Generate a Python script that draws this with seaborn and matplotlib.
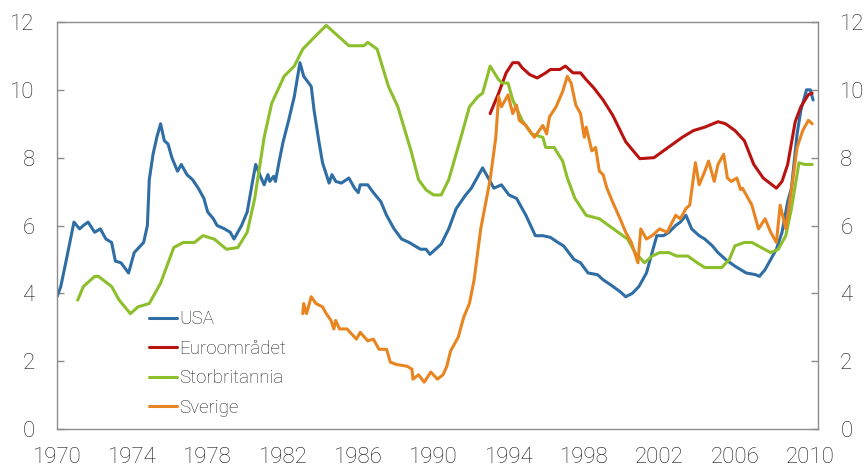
import matplotlib
matplotlib.use("Agg")
import matplotlib.pyplot as plt
import seaborn as sns
import pandas as pd

# Ledighet i prosent, lest av figuren
usa_år = [1970.0, 1970.2, 1970.5, 1970.9, 1971.2, 1971.4, 1971.65, 1972.0, 1972.3, 1972.6, 1972.9,
          1973.1, 1973.4, 1973.8, 1974.1, 1974.6, 1974.8, 1974.9, 1975.1, 1975.3, 1975.5, 1975.7,
          1975.9, 1976.1, 1976.4, 1976.6, 1976.9, 1977.2, 1977.5, 1977.8, 1978.0, 1978.3, 1978.5,
          1978.9, 1979.2, 1979.4, 1979.8, 1980.1, 1980.4, 1980.55, 1980.8, 1981.0, 1981.2, 1981.3,
          1981.5, 1981.6, 1981.8, 1982.0, 1982.3, 1982.6, 1982.9, 1983.1, 1983.5, 1983.65, 1983.9,
          1984.1, 1984.45, 1984.6, 1984.8, 1985.1, 1985.5, 1985.8, 1986.0, 1986.1, 1986.5, 1986.8,
          1987.2, 1987.5, 1987.9, 1988.3, 1988.7, 1989.0, 1989.3, 1989.6, 1989.8, 1990.1, 1990.4,
          1990.8, 1991.2, 1991.7, 1992.0, 1992.3, 1992.6, 1992.9, 1993.2, 1993.6, 1994.0, 1994.4,
          1994.9, 1995.4, 1995.8, 1996.2, 1996.6, 1996.9, 1997.45, 1997.8, 1998.2, 1998.7, 1999.0,
          1999.4, 1999.9, 2000.2, 2000.55, 2000.9, 2001.3, 2001.6, 2001.85, 2002.2, 2002.5, 2002.85,
          2003.1, 2003.4, 2003.7, 2004.1, 2004.4, 2004.8, 2005.1, 2005.5, 2006.0, 2006.3, 2006.6,
          2007.1, 2007.3, 2007.6, 2007.9, 2008.2, 2008.5, 2008.8, 2009.0, 2009.3, 2009.5, 2009.8,
          2010.0, 2010.15]
usa = [3.9, 4.2, 5.0, 6.1, 5.9, 6.0, 6.1, 5.8, 5.9, 5.6, 5.5,
       4.95, 4.9, 4.6, 5.2, 5.5, 6.0, 7.35, 8.1, 8.6, 9.0, 8.5,
       8.4, 8.0, 7.6, 7.8, 7.5, 7.35, 7.1, 6.8, 6.4, 6.2, 6.0,
       5.9, 5.8, 5.6, 6.0, 6.4, 7.35, 7.8, 7.45, 7.2, 7.5, 7.3,
       7.45, 7.3, 7.9, 8.45, 9.1, 9.8, 10.8, 10.4, 10.1, 9.4, 8.5,
       7.85, 7.25, 7.5, 7.3, 7.25, 7.4, 7.1, 6.97, 7.2, 7.2, 6.97,
       6.7, 6.3, 5.9, 5.6, 5.5, 5.4, 5.3, 5.3, 5.15, 5.3, 5.45,
       5.9, 6.5, 6.9, 7.1, 7.4, 7.7, 7.4, 7.1, 7.2, 6.9, 6.8,
       6.3, 5.7, 5.7, 5.65, 5.5, 5.4, 5.0, 4.9, 4.6, 4.55, 4.4,
       4.25, 4.05, 3.9, 4.0, 4.2, 4.6, 5.2, 5.7, 5.7, 5.8, 6.0,
       6.1, 6.3, 5.9, 5.7, 5.6, 5.4, 5.2, 5.0, 4.8, 4.7, 4.6,
       4.55, 4.5, 4.7, 5.0, 5.3, 5.8, 6.7, 7.1, 8.7, 9.4, 10.0,
       10.0, 9.7]

euro_år = [1993.0, 1993.45, 1993.85, 1994.2, 1994.5, 1994.7, 1995.1, 1995.5, 1995.95, 1996.2,
           1996.7, 1997.0, 1997.4, 1997.8, 1998.1, 1998.5, 1999.0, 1999.5, 2000.2, 2000.6,
           2000.95, 2001.7, 2002.2, 2002.7, 2003.2, 2003.8, 2004.4, 2005.1, 2005.5, 2006.0,
           2006.5, 2007.0, 2007.5, 2008.2, 2008.5, 2008.8, 2009.2, 2009.5, 2009.9, 2010.1]
euro = [9.3, 9.9, 10.5, 10.8, 10.8, 10.65, 10.45, 10.35, 10.5, 10.6,
        10.6, 10.7, 10.5, 10.5, 10.3, 10.06, 9.7, 9.26, 8.47, 8.2,
        7.97, 8.0, 8.2, 8.4, 8.6, 8.8, 8.9, 9.06, 9.0, 8.8,
        8.5, 7.8, 7.4, 7.1, 7.3, 7.8, 9.06, 9.5, 9.86, 9.9]

uk_år = [1971.1, 1971.4, 1972.0, 1972.2, 1972.9, 1973.3, 1973.9, 1974.3, 1974.9, 1975.5,
         1976.2, 1976.7, 1977.3, 1977.75, 1978.35, 1979.0, 1979.6, 1980.1, 1980.5, 1981.0,
         1981.4, 1982.06, 1982.6, 1983.05, 1983.75, 1984.3, 1984.9, 1985.5, 1986.3, 1986.5,
         1987.0, 1987.6, 1988.1, 1988.8, 1989.2, 1989.6, 1990.0, 1990.4, 1990.8, 1991.45,
         1991.9, 1992.35, 1992.6, 1993.0, 1993.45, 1993.65, 1993.95, 1994.2, 1994.7, 1995.2,
         1995.8, 1995.95, 1996.4, 1996.85, 1997.1, 1997.5, 1998.1, 1998.8, 1999.3, 1999.8,
         2000.3, 2000.7, 2001.2, 2001.6, 2002.0, 2002.5, 2002.9, 2003.5, 2004.0, 2004.4,
         2005.3, 2005.7, 2006.0, 2006.5, 2006.9, 2007.4, 2007.9, 2008.3, 2008.7, 2009.0,
         2009.4, 2009.7, 2010.1]
uk = [3.8, 4.2, 4.5, 4.5, 4.2, 3.8, 3.4, 3.6, 3.7, 4.3,
      5.35, 5.5, 5.5, 5.7, 5.6, 5.3, 5.35, 5.8, 6.8, 8.6,
      9.6, 10.4, 10.7, 11.2, 11.6, 11.9, 11.6, 11.3, 11.3, 11.4,
      11.2, 10.1, 9.5, 8.2, 7.35, 7.05, 6.9, 6.9, 7.35, 8.6,
      9.5, 9.8, 9.9, 10.7, 10.3, 10.2, 10.2, 9.7, 9.1, 8.7,
      8.6, 8.3, 8.3, 7.9, 7.4, 6.8, 6.3, 6.2, 6.0, 5.8,
      5.6, 5.2, 4.9, 5.1, 5.2, 5.2, 5.1, 5.1, 4.9, 4.76,
      4.76, 5.0, 5.4, 5.5, 5.5, 5.35, 5.2, 5.3, 5.7, 6.5,
      7.85, 7.8, 7.8]

sverige_år = [1983.05, 1983.1, 1983.25, 1983.5, 1983.75, 1984.1, 1984.3, 1984.55, 1984.7, 1984.8,
              1985.0, 1985.4, 1985.9, 1986.1, 1986.5, 1986.8, 1987.1, 1987.5, 1987.7, 1988.05,
              1988.6, 1988.85, 1988.9, 1989.2, 1989.5, 1989.85, 1990.2, 1990.5, 1990.7, 1990.9,
              1991.3, 1991.6, 1991.9, 1992.15, 1992.5, 1992.9, 1993.0, 1993.3, 1993.45, 1993.6,
              1993.95, 1994.2, 1994.4, 1994.55, 1994.9, 1995.35, 1995.8, 1996.0, 1996.15, 1996.5,
              1996.85, 1997.1, 1997.3, 1997.55, 1997.8, 1998.0, 1998.1, 1998.4, 1998.6, 1998.8,
              1999.0, 1999.2, 1999.5, 1999.9, 2000.2, 2000.5, 2000.85, 2001.0, 2001.3, 2001.6,
              2002.0, 2002.4, 2002.85, 2003.1, 2003.4, 2003.6, 2003.9, 2004.1, 2004.4, 2004.6,
              2004.9, 2005.1, 2005.4, 2005.6, 2005.8, 2006.1, 2006.3, 2006.4, 2006.9, 2007.25,
              2007.6, 2007.9, 2008.2, 2008.4, 2008.7, 2009.0, 2009.3, 2009.6, 2009.9, 2010.1]
sverige = [3.4, 3.7, 3.4, 3.9, 3.7, 3.6, 3.4, 3.2, 2.95, 3.2,
           2.95, 2.95, 2.65, 2.85, 2.6, 2.65, 2.35, 2.35, 1.97, 1.9,
           1.85, 1.76, 1.47, 1.6, 1.38, 1.68, 1.47, 1.6, 1.85, 2.3,
           2.7, 3.3, 3.7, 4.4, 5.9, 7.06, 7.35, 8.6, 9.8, 9.5,
           9.85, 9.3, 9.55, 9.1, 8.95, 8.6, 8.95, 8.7, 9.2, 9.5,
           9.95, 10.4, 10.2, 9.55, 9.3, 8.6, 8.9, 8.2, 8.3, 7.6,
           7.5, 7.1, 6.7, 6.2, 5.8, 5.5, 4.9, 5.9, 5.6, 5.7,
           5.9, 5.8, 6.3, 6.2, 6.5, 6.6, 7.85, 7.2, 7.6, 7.9,
           7.3, 7.8, 8.1, 7.4, 7.3, 7.4, 7.06, 7.1, 6.6, 5.9,
           6.2, 5.8, 5.5, 6.6, 5.9, 7.06, 8.3, 8.8, 9.1, 9.0]

land = ["USA", "Euroområdet", "Storbritannia", "Sverige"]
farger = ["#2f6ea5", "#b8130f", "#8cbf2b", "#e98520"]

df = pd.concat([
    pd.DataFrame({"år": usa_år, "ledighet": usa, "land": "USA"}),
    pd.DataFrame({"år": euro_år, "ledighet": euro, "land": "Euroområdet"}),
    pd.DataFrame({"år": uk_år, "ledighet": uk, "land": "Storbritannia"}),
    pd.DataFrame({"år": sverige_år, "ledighet": sverige, "land": "Sverige"}),
], ignore_index=True)

sns.set_style("white")
plt.rcParams["font.family"] = ["Roboto", "DejaVu Sans"]
plt.rcParams["font.weight"] = "light"

fig = plt.figure(figsize=(8.68, 4.72), dpi=100)
ax = fig.add_axes([57 / 868, 43 / 472, 761 / 868, 407 / 472])

sns.lineplot(data=df, x="år", y="ledighet", hue="land", hue_order=land,
             palette=farger, linewidth=2.2, estimator=None, sort=False, ax=ax)

ax.set_xlim(1970, 2010.41)
ax.set_ylim(0, 12)
ax.set_xticks(range(1970, 2011, 4))
ax.set_yticks(range(0, 13, 2))
ax.set_xlabel("")
ax.set_ylabel("")

for s in ax.spines.values():
    s.set_color("#8c8c8c")
    s.set_linewidth(1.0)

ax.tick_params(axis="x", direction="in", length=5, width=1, color="#8c8c8c",
               labelsize=16, pad=13, labelcolor="#1a1a1a")
ax.tick_params(axis="y", direction="in", length=5, width=1, color="#8c8c8c",
               labelsize=16, pad=16, labelcolor="#1a1a1a",
               left=True, right=True, labelleft=True, labelright=True)

ax.legend(loc="upper left", bbox_to_anchor=(0.121, 0.292), frameon=False,
          fontsize=13.5, handlelength=1.5, handletextpad=0.1, labelspacing=0.62,
          borderpad=0, borderaxespad=0)

fig.savefig("out.png", dpi=100)
